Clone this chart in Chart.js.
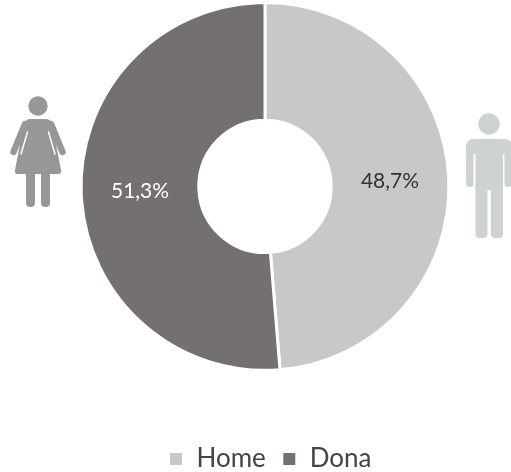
<!DOCTYPE html>
<html><head><meta charset="utf-8">
<style>html,body{margin:0;padding:0;background:#fff}#w{position:relative;width:511px;height:472px}canvas{display:block}</style>
<script src="https://cdn.jsdelivr.net/npm/chart.js@4"></script>
</head><body><div id="w"><canvas id="c" width="511" height="472"></canvas></div>
<script>
const categories=["Home","Dona"];
const values=[48.7,51.3];
const labels=["48,7%","51,3%"];
const colors=["#c8c8c8","#747070"];
const labelColors=["#333333","#ffffff"];
const font='"Lato","Open Sans",sans-serif';
const sliceLabels={id:'sliceLabels',afterDatasetsDraw(ch){
 const c=ch.ctx;c.save();
 c.font='21px '+font;c.textAlign='center';c.textBaseline='middle';
 ch.getDatasetMeta(0).data.forEach((a,i)=>{const p=a.tooltipPosition();c.fillStyle=labelColors[i];c.fillText(labels[i],p.x,p.y);});
 c.restore();
}};
const legendShift={id:'legendShift',afterLayout(ch){ch.legend.left+=5;ch.legend.right+=5;}};
const figures={id:'figures',afterDraw(ch){
 const c=ch.ctx;c.save();c.lineCap='round';c.lineJoin='round';
 // woman
 const w='#979797';
 c.fillStyle=w;c.strokeStyle=w;
 c.beginPath();c.arc(38,106,9.7,0,7);c.fill();
 c.lineWidth=6.5;
 c.beginPath();c.moveTo(25,124);c.lineTo(13.5,152);c.moveTo(51,124);c.lineTo(62.5,152);c.stroke();
 c.beginPath();c.moveTo(30,119);c.lineTo(46,119);c.quadraticCurveTo(50,119,52,124);c.lineTo(61,170);c.quadraticCurveTo(62,174,58,174);c.lineTo(18,174);c.quadraticCurveTo(14,174,15,170);c.lineTo(24,124);c.quadraticCurveTo(26,119,30,119);c.closePath();c.fill();
 c.beginPath();c.roundRect(26,170,9,37,4);c.roundRect(41,170,9,37,4);c.fill();
 c.strokeStyle='#ffffff';c.lineWidth=1.5;
 c.beginPath();c.moveTo(27.5,132);c.lineTo(21,154);c.moveTo(48.5,132);c.lineTo(55,154);c.stroke();
 // man
 const m='#cfd3d0';
 c.fillStyle=m;c.strokeStyle=m;
 c.beginPath();c.arc(489,124,10.7,0,7);c.fill();
 c.beginPath();c.roundRect(466,139,46,15,7);c.fill();
 c.beginPath();c.roundRect(466,145,7.5,42,3.5);c.roundRect(504.5,145,7.5,42,3.5);c.fill();
 c.beginPath();c.rect(475.5,145,27.5,45);c.fill();
 c.beginPath();c.roundRect(475.5,180,12,58,4);c.roundRect(491,180,12,58,4);c.fill();
 c.restore();
}};
new Chart(document.getElementById('c'),{type:'doughnut',
 data:{labels:categories,datasets:[{data:values,backgroundColor:colors,borderColor:'#fff',borderWidth:3,borderAlign:'center'}]},
 plugins:[sliceLabels,legendShift,figures],
 options:{responsive:false,animation:false,cutout:'36%',
  layout:{padding:{top:1,bottom:-10,left:79,right:60}},
  plugins:{tooltip:{enabled:false},
   legend:{display:true,position:'bottom',
    title:{display:true,text:' ',font:{size:1},padding:{top:28,bottom:29}},
    labels:{boxWidth:15,boxHeight:15,color:'#444',padding:16,font:{family:font,size:26}}}}}
});
</script></body></html>
